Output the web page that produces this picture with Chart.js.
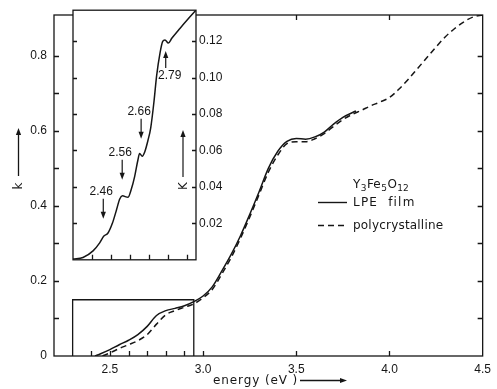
<!DOCTYPE html>
<html>
<head>
<meta charset="utf-8">
<script src="https://cdn.jsdelivr.net/npm/chart.js@4.4.1/dist/chart.umd.min.js"></script>
<style>
  html, body { margin: 0; padding: 0; background: #fff; }
  #wrap { position: relative; width: 497px; height: 389px; }
  #mainChart { position: absolute; left: 0; top: 0; }
  #insetChart { position: absolute; left: 60px; top: 0; }
</style>
</head>
<body>
<div id="wrap">
  <canvas id="mainChart" width="497" height="389"></canvas>
  <canvas id="insetChart" width="175" height="270"></canvas>
</div>
<script>
// main panel: k vs energy (eV)
const LPE_ENERGY = [2.42, 2.45, 2.5, 2.55, 2.6, 2.65, 2.7, 2.75, 2.8, 2.85, 2.9, 2.95, 3.0, 3.05, 3.1, 3.15, 3.2, 3.25, 3.3, 3.35, 3.4, 3.45, 3.5, 3.55, 3.6, 3.65, 3.7, 3.75, 3.82];
const LPE_K = [0, 0.006, 0.017, 0.03, 0.042, 0.057, 0.079, 0.108, 0.121, 0.127, 0.134, 0.145, 0.16, 0.185, 0.226, 0.27, 0.32, 0.377, 0.437, 0.5, 0.545, 0.572, 0.58, 0.578, 0.584, 0.597, 0.618, 0.636, 0.653];

const POLY_ENERGY = [2.46, 2.5, 2.55, 2.6, 2.65, 2.7, 2.75, 2.8, 2.85, 2.9, 2.95, 3.0, 3.05, 3.1, 3.15, 3.2, 3.25, 3.3, 3.35, 3.4, 3.45, 3.5, 3.55, 3.6, 3.65, 3.7, 3.75, 3.8, 3.85, 3.9, 3.95, 4.0, 4.05, 4.1, 4.15, 4.2, 4.25, 4.3, 4.35, 4.4, 4.45, 4.5];
const POLY_K = [0, 0.008, 0.02, 0.03, 0.041, 0.057, 0.085, 0.11, 0.121, 0.13, 0.139, 0.155, 0.178, 0.218, 0.262, 0.313, 0.37, 0.43, 0.49, 0.535, 0.566, 0.571, 0.571, 0.579, 0.593, 0.612, 0.63, 0.644, 0.655, 0.667, 0.677, 0.689, 0.711, 0.737, 0.766, 0.795, 0.824, 0.851, 0.873, 0.891, 0.904, 0.909];

const MAIN_X_TICKS = [2.5, 3.0, 3.5, 4.0, 4.5];
const MAIN_Y_TICKS = [0, 0.2, 0.4, 0.6, 0.8];
const MAIN_Y_MINOR = [0.1, 0.2, 0.3, 0.4, 0.5, 0.6, 0.7, 0.8];
const BOTTOM_TICK_E = [2.4, 2.5, 2.6, 2.7, 2.8, 2.9, 3.0, 3.5, 4.0];
const TOP_TICK_E = [3.5, 4.0];
const ZOOM_BOX_E = [2.3, 2.95];
const ZOOM_BOX_K = 0.15;

// inset: K of the LPE film, 2.3 - 2.95 eV
const INSET_ENERGY = [2.3, 2.353, 2.406, 2.441, 2.462, 2.485, 2.508, 2.529, 2.547, 2.561, 2.591, 2.608, 2.626, 2.643, 2.652, 2.666, 2.679, 2.696, 2.711, 2.728, 2.742, 2.76, 2.774, 2.786, 2.804, 2.822, 2.865, 2.909, 2.95];
const INSET_K = [0.0004, 0.0013, 0.0049, 0.0093, 0.0129, 0.0147, 0.02, 0.0271, 0.0334, 0.0351, 0.0343, 0.0387, 0.0458, 0.0548, 0.0583, 0.0569, 0.0592, 0.0655, 0.0726, 0.0869, 0.1011, 0.1136, 0.1199, 0.1207, 0.119, 0.1216, 0.127, 0.1323, 0.137];
const INSET_Y_TICKS = [0.02, 0.04, 0.06, 0.08, 0.10, 0.12];
const INSET_X_TICKS = [2.4, 2.5, 2.6, 2.7, 2.8, 2.9];
const PEAK_LABELS = ['2.46', '2.56', '2.66', '2.79'];

const INK = '#161616';
const NUM_FONT = '12px "Liberation Sans", Arial, sans-serif';
const TXT_FONT = '12px "DejaVu Sans", sans-serif';

function toPoints(xs, ys) {
  return xs.map((x, i) => ({ x, y: ys[i] }));
}

function arrow(ctx, x1, y1, x2, y2) {
  const ang = Math.atan2(y2 - y1, x2 - x1);
  const head = 7;
  ctx.beginPath();
  ctx.moveTo(x1, y1);
  ctx.lineTo(x2 - Math.cos(ang) * head * 0.8, y2 - Math.sin(ang) * head * 0.8);
  ctx.stroke();
  ctx.beginPath();
  ctx.moveTo(x2, y2);
  ctx.lineTo(x2 - Math.cos(ang) * head + Math.sin(ang) * 2.6, y2 - Math.sin(ang) * head - Math.cos(ang) * 2.6);
  ctx.lineTo(x2 - Math.cos(ang) * head - Math.sin(ang) * 2.6, y2 - Math.sin(ang) * head + Math.cos(ang) * 2.6);
  ctx.closePath();
  ctx.fill();
}

function spaced(ctx, px) {
  if ('letterSpacing' in ctx) ctx.letterSpacing = px;
}

const mainDecor = {
  id: 'mainDecor',
  beforeDatasetsDraw(chart) {
    const { ctx, chartArea: a, scales: { x, y } } = chart;
    ctx.save();
    ctx.strokeStyle = INK;
    ctx.fillStyle = INK;
    ctx.lineWidth = 1.3;
    ctx.strokeRect(a.left, a.top, a.right - a.left, a.bottom - a.top);

    // inward ticks
    ctx.beginPath();
    MAIN_Y_MINOR.forEach(v => {
      const py = Math.round(y.getPixelForValue(v)) + 0.5;
      ctx.moveTo(a.left, py); ctx.lineTo(a.left + 5, py);
      ctx.moveTo(a.right, py); ctx.lineTo(a.right - 5, py);
    });
    BOTTOM_TICK_E.forEach(v => {
      const px = Math.round(x.getPixelForValue(v)) + 0.5;
      ctx.moveTo(px, a.bottom); ctx.lineTo(px, a.bottom - 5);
    });
    TOP_TICK_E.forEach(v => {
      const px = Math.round(x.getPixelForValue(v)) + 0.5;
      ctx.moveTo(px, a.top); ctx.lineTo(px, a.top + 5);
    });
    ctx.stroke();

    // box showing the inset region
    const bx0 = x.getPixelForValue(ZOOM_BOX_E[0]);
    const bx1 = x.getPixelForValue(ZOOM_BOX_E[1]);
    const by = y.getPixelForValue(ZOOM_BOX_K);
    ctx.beginPath();
    ctx.moveTo(bx0, a.bottom); ctx.lineTo(bx0, by); ctx.lineTo(bx1, by); ctx.lineTo(bx1, a.bottom);
    ctx.stroke();
    ctx.restore();
  },
  afterDraw(chart) {
    const { ctx } = chart;
    ctx.save();
    ctx.strokeStyle = INK;
    ctx.fillStyle = INK;
    ctx.lineWidth = 1.3;

    // "k" with arrow
    arrow(ctx, 18.5, 176, 18.5, 128);
    ctx.save();
    ctx.translate(19, 186);
    ctx.rotate(-Math.PI / 2);
    ctx.font = TXT_FONT;
    ctx.textAlign = 'center';
    ctx.textBaseline = 'middle';
    ctx.fillText('k', 0, 0);
    ctx.restore();

    // x title with arrow
    ctx.font = TXT_FONT;
    ctx.textBaseline = 'middle';
    ctx.textAlign = 'left';
    spaced(ctx, '0.9px');
    ctx.fillText('energy (eV )', 213, 381);
    spaced(ctx, '0px');
    arrow(ctx, 300, 380.5, 347, 380.5);

    // legend
    const lx = 353;
    let cx = lx;
    const parts = [['Y', false], ['3', true], ['Fe', false], ['5', true], ['O', false], ['12', true]];
    parts.forEach(([t, sub]) => {
      ctx.font = sub ? '9px "DejaVu Sans", sans-serif' : TXT_FONT;
      ctx.fillText(t, cx, sub ? 189 : 185);
      cx += ctx.measureText(t).width + (sub ? 0.5 : 0.5);
    });
    ctx.font = TXT_FONT;
    spaced(ctx, '1.2px');
    ctx.fillText('LPE  film', lx, 203);
    spaced(ctx, '0.2px');
    ctx.fillText('polycrystalline', lx, 226);
    spaced(ctx, '0px');
    ctx.lineWidth = 1.4;
    ctx.beginPath();
    ctx.moveTo(318, 202.5); ctx.lineTo(347, 202.5);
    ctx.stroke();
    ctx.setLineDash([6, 4]);
    ctx.beginPath();
    ctx.moveTo(318, 225.5); ctx.lineTo(346, 225.5);
    ctx.stroke();
    ctx.restore();
  },
};

const insetDecor = {
  id: 'insetDecor',
  beforeDatasetsDraw(chart) {
    const { ctx, chartArea: a, scales: { x, y } } = chart;
    ctx.save();
    ctx.fillStyle = '#fff';
    ctx.fillRect(a.left, a.top, a.right - a.left, a.bottom - a.top);
    ctx.strokeStyle = INK;
    ctx.lineWidth = 1.3;
    ctx.strokeRect(a.left, a.top, a.right - a.left, a.bottom - a.top);
    ctx.beginPath();
    INSET_Y_TICKS.forEach(v => {
      const py = Math.round(y.getPixelForValue(v)) + 0.5;
      ctx.moveTo(a.left, py); ctx.lineTo(a.left + 4, py);
      ctx.moveTo(a.right, py); ctx.lineTo(a.right - 4, py);
    });
    INSET_X_TICKS.forEach(v => {
      const px = Math.round(x.getPixelForValue(v)) + 0.5;
      ctx.moveTo(px, a.bottom); ctx.lineTo(px, a.bottom - 5);
    });
    ctx.stroke();
    ctx.restore();
  },
  afterDraw(chart) {
    const { ctx, scales: { x, y } } = chart;
    ctx.save();
    ctx.strokeStyle = INK;
    ctx.fillStyle = INK;
    ctx.lineWidth = 1.2;
    ctx.font = NUM_FONT;
    ctx.textAlign = 'center';
    ctx.textBaseline = 'middle';

    // feature markers: three pointing down from above, the last pointing up from below
    const tips = [0.0225, 0.044, 0.0665, 0.1146];
    PEAK_LABELS.forEach((label, i) => {
      const px = x.getPixelForValue(parseFloat(label));
      const tip = y.getPixelForValue(tips[i]);
      if (i < 3) {
        arrow(ctx, px, tip - 20, px, tip);
        ctx.fillText(label, px - 2, tip - 27);
      } else {
        arrow(ctx, px, tip + 17, px, tip);
        ctx.fillText(label, px + 4, tip + 25);
      }
    });

    // "K" with arrow
    const ax = chart.chartArea.right - 13;
    arrow(ctx, ax, 177, ax, 130);
    ctx.save();
    ctx.translate(ax + 0.5, 186);
    ctx.rotate(-Math.PI / 2);
    ctx.font = TXT_FONT;
    ctx.fillText('K', 0, 0);
    ctx.restore();
    ctx.restore();
  },
};

const lineStyle = {
  borderColor: INK,
  borderWidth: 1.5,
  pointRadius: 0,
  fill: false,
  cubicInterpolationMode: 'monotone',
};

function buildMainChart() {
  return new Chart(document.getElementById('mainChart'), {
    type: 'line',
    data: {
      datasets: [
        { ...lineStyle, label: 'LPE film', data: toPoints(LPE_ENERGY, LPE_K) },
        { ...lineStyle, label: 'polycrystalline', data: toPoints(POLY_ENERGY, POLY_K), borderDash: [6, 4] },
      ],
    },
    options: {
      responsive: false,
      devicePixelRatio: 1,
      animation: false,
      layout: { padding: { top: 15, right: 7, left: 0, bottom: 0 } },
      plugins: { legend: { display: false }, tooltip: { enabled: false } },
      scales: {
        x: {
          type: 'linear',
          min: 2.2,
          max: 4.5,
          afterBuildTicks: scale => { scale.ticks = MAIN_X_TICKS.map(value => ({ value })); },
          afterFit: scale => { scale.height = 33; },
          grid: { display: false, drawTicks: false },
          border: { display: false },
          ticks: { color: INK, font: { family: '"Liberation Sans", Arial, sans-serif', size: 12 }, padding: 6, maxRotation: 0, callback: v => v.toFixed(1) },
        },
        y: {
          type: 'linear',
          min: 0,
          max: 0.909,
          afterBuildTicks: scale => { scale.ticks = MAIN_Y_TICKS.map(value => ({ value })); },
          afterFit: scale => { scale.width = 54; },
          grid: { display: false, drawTicks: false },
          border: { display: false },
          ticks: { color: INK, font: { family: '"Liberation Sans", Arial, sans-serif', size: 12 }, padding: 7, callback: v => (v === 0 ? '0' : v.toFixed(1)) },
        },
      },
    },
    plugins: [mainDecor],
  });
}

function buildInsetChart() {
  return new Chart(document.getElementById('insetChart'), {
    type: 'line',
    data: {
      datasets: [{ ...lineStyle, label: 'K', data: toPoints(INSET_ENERGY, INSET_K) }],
    },
    options: {
      responsive: false,
      devicePixelRatio: 1,
      animation: false,
      layout: { padding: { top: 6, right: 0, left: 13, bottom: 8 } },
      plugins: { legend: { display: false }, tooltip: { enabled: false } },
      scales: {
        x: { type: 'linear', min: 2.3, max: 2.95, display: false },
        y: {
          type: 'linear',
          position: 'right',
          min: 0,
          max: 0.137,
          afterBuildTicks: scale => { scale.ticks = INSET_Y_TICKS.map(value => ({ value })); },
          afterFit: scale => { scale.width = 39; },
          grid: { display: false, drawTicks: false },
          border: { display: false },
          ticks: { color: INK, font: { family: '"Liberation Sans", Arial, sans-serif', size: 12 }, padding: 3, callback: v => v.toFixed(2) },
        },
      },
    },
    plugins: [insetDecor],
  });
}

buildMainChart();
buildInsetChart();
</script>
</body>
</html>
